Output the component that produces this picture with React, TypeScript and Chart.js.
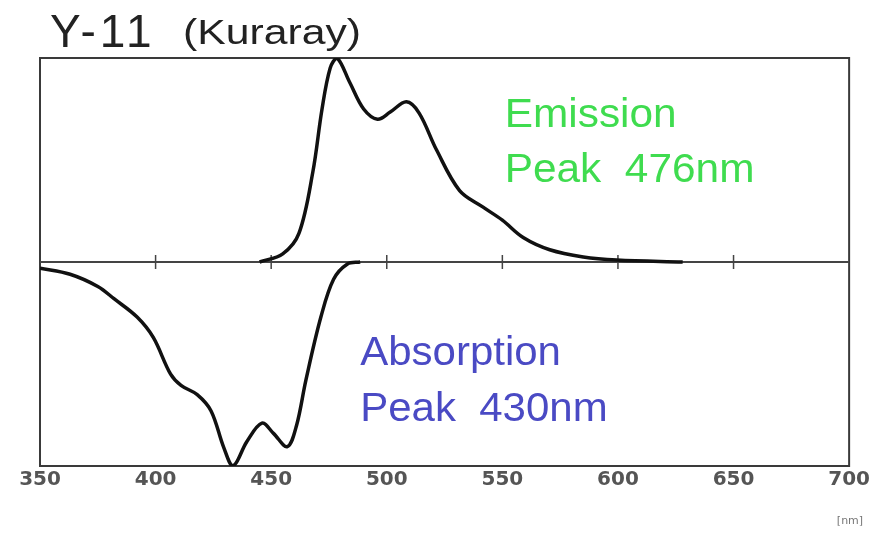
import React, { useEffect, useRef } from "react";
import { Chart, registerables } from "chart.js";

Chart.register(...registerables);

// Emission spectrum (normalised, positive half)
const emissionWavelengths = [445, 455, 462, 468, 472, 475.5, 478.5, 484, 490, 496, 501.5, 508.5, 514, 521.5, 531.5, 541.5, 550, 559, 570.5, 585, 599.5, 628];
const emissionValues = [0, 0.04, 0.14, 0.44, 0.75, 0.95, 1.0, 0.88, 0.75, 0.7, 0.735, 0.785, 0.73, 0.55, 0.35, 0.27, 0.205, 0.12, 0.06, 0.025, 0.01, 0];

// Absorption spectrum (normalised, drawn downward)
const absorptionWavelengths = [350, 363, 375, 382, 392, 399, 406.5, 411, 418, 424, 429.5, 433.5, 439.5, 446, 451, 457, 461, 465, 471.5, 477, 483, 488.5];
const absorptionValues = [-0.03, -0.06, -0.12, -0.18, -0.27, -0.37, -0.55, -0.605, -0.65, -0.73, -0.91, -1.0, -0.88, -0.79, -0.84, -0.905, -0.8, -0.58, -0.27, -0.085, -0.01, 0];

const xTickValues = [350, 400, 450, 500, 550, 600, 650, 700];
const midTickValues = [400, 450, 500, 550, 600, 650];

const titleMain = "Y-11";
const titleSub = "(Kuraray)";
const unitLabel = "[nm]";
const emissionLabel = ["Emission", "Peak  476nm"];
const absorptionLabel = ["Absorption", "Peak  430nm"];

function stretchedText(ctx: any, text: string, x: number, y: number, sx: number) {
  ctx.save();
  ctx.translate(x, y);
  ctx.scale(sx, 1);
  ctx.fillText(text, 0, 0);
  ctx.restore();
}

const decorPlugin = {
  id: "decor",
  beforeDatasetsDraw(chart: any) {
    const { ctx, chartArea } = chart;
    const xs = chart.scales.x;
    const ys = chart.scales.y;
    ctx.save();
    ctx.strokeStyle = "#3a3a3a";
    ctx.lineWidth = 2;
    ctx.strokeRect(chartArea.left, chartArea.top, chartArea.right - chartArea.left, chartArea.bottom - chartArea.top);
    const y0 = ys.getPixelForValue(0);
    ctx.lineWidth = 2;
    ctx.strokeStyle = "#444";
    ctx.beginPath();
    ctx.moveTo(chartArea.left, y0);
    ctx.lineTo(chartArea.right, y0);
    ctx.stroke();
    ctx.lineWidth = 1.5;
    midTickValues.forEach((v) => {
      const px = xs.getPixelForValue(v);
      ctx.beginPath();
      ctx.moveTo(px, y0 - 7);
      ctx.lineTo(px, y0 + 7);
      ctx.stroke();
    });
    ctx.restore();
  },
  afterDraw(chart: any) {
    const { ctx, chartArea } = chart;
    const xs = chart.scales.x;
    const ys = chart.scales.y;
    ctx.save();
    ctx.textBaseline = "alphabetic";
    ctx.textAlign = "left";
    // title
    ctx.fillStyle = "#222";
    ctx.font = '46px "Liberation Sans", Arial, sans-serif';
    (ctx as any).letterSpacing = "4px";
    ctx.fillText(titleMain, 50, 47);
    (ctx as any).letterSpacing = "0px";
    ctx.font = '35px "Liberation Sans", Arial, sans-serif';
    stretchedText(ctx, titleSub, 183, 44, 1.22);
    // annotations
    ctx.font = '40px "Liberation Sans", Arial, sans-serif';
    ctx.fillStyle = "#3fdc4f";
    stretchedText(ctx, emissionLabel[0], xs.getPixelForValue(551), ys.getPixelForValue(0.662), 1.06);
    stretchedText(ctx, emissionLabel[1], xs.getPixelForValue(551), ys.getPixelForValue(0.392), 1.06);
    ctx.fillStyle = "#4a4ac4";
    stretchedText(ctx, absorptionLabel[0], xs.getPixelForValue(488.5), ys.getPixelForValue(-0.507), 1.05);
    stretchedText(ctx, absorptionLabel[1], xs.getPixelForValue(488.5), ys.getPixelForValue(-0.781), 1.05);
    // unit
    ctx.font = '11px "DejaVu Sans", sans-serif';
    ctx.fillStyle = "#777";
    ctx.textAlign = "right";
    ctx.fillText(unitLabel, chartArea.right + 14, 524);
    ctx.restore();
  },
};

export default function App() {
  const canvasRef = useRef<HTMLCanvasElement | null>(null);

  useEffect(() => {
    document.body.style.margin = "0";
    const canvas = canvasRef.current;
    if (!canvas) return;
    const emissionData = emissionWavelengths.map((x, i) => ({ x, y: emissionValues[i] }));
    const absorptionData = absorptionWavelengths.map((x, i) => ({ x, y: absorptionValues[i] }));
    const chart = new Chart(canvas, {
      type: "line",
      data: {
        datasets: [
          {
            label: "Emission",
            data: emissionData,
            borderColor: "#111",
            borderWidth: 3.5,
            pointRadius: 0,
            tension: 0.35,
            fill: false,
          },
          {
            label: "Absorption",
            data: absorptionData,
            borderColor: "#111",
            borderWidth: 3.5,
            pointRadius: 0,
            tension: 0.35,
            fill: false,
          },
        ],
      },
      options: {
        animation: false,
        responsive: false,
        maintainAspectRatio: false,
        layout: { padding: { left: 40, right: 20, top: 58, bottom: 0 } },
        plugins: {
          legend: { display: false },
          title: { display: false },
          tooltip: { enabled: false },
        },
        scales: {
          x: {
            type: "linear",
            min: 350,
            max: 700,
            afterFit: (scale: any) => {
              scale.height = 88;
            },
            afterBuildTicks: (scale: any) => {
              scale.ticks = xTickValues.map((v) => ({ value: v }));
            },
            grid: { display: false, drawTicks: false },
            border: { display: false },
            ticks: {
              padding: 2,
              maxRotation: 0,
              autoSkip: false,
              color: "#555",
              font: { family: '"DejaVu Sans", sans-serif', size: 20, weight: "bold" },
            },
          },
          y: {
            type: "linear",
            min: -1,
            max: 1,
            display: false,
          },
        },
      } as any,
      plugins: [decorPlugin],
    });
    return () => chart.destroy();
  }, []);

  return (
    <div style={{ width: 872, height: 554 }}>
      <canvas ref={canvasRef} width={872} height={554} style={{ display: "block" }} />
    </div>
  );
}
